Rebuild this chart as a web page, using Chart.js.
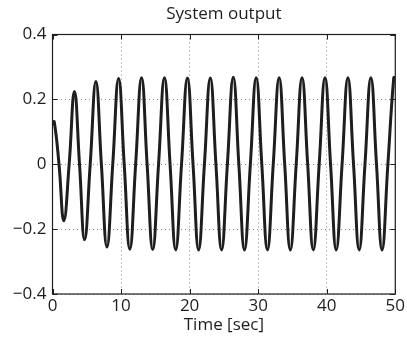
<!DOCTYPE html>
<html>
<head>
<meta charset="utf-8">
<script src="https://cdn.jsdelivr.net/npm/chart.js@4.4.1/dist/chart.umd.min.js"></script>
<style>
  html, body { margin: 0; padding: 0; background: #fff; }
  canvas { display: block; }
</style>
</head>
<body>
<canvas id="chart" width="407" height="339"></canvas>
<script>
// Values: peaks, troughs and zero crossings of the response
const timeSec = [
  0, 0.25, 0.95, 1.65, 2.43, 3.2, 3.94, 4.68, 5.5, 6.33, 7.13, 7.94, 8.79,
  9.64, 10.46, 11.28, 12.13, 12.99, 13.8, 14.62, 15.47, 16.33, 17.15, 17.97,
  18.82, 19.68, 20.5, 21.31, 22.16, 23.02, 23.84, 24.66, 25.51, 26.37, 27.18,
  28.0, 28.86, 29.71, 30.53, 31.35, 32.2, 33.06, 33.87, 34.69, 35.55, 36.4,
  37.22, 38.04, 38.9, 39.75, 40.56, 41.38, 42.24, 43.09, 43.91, 44.73, 45.58,
  46.44, 47.26, 48.07, 48.92, 49.78, 50
];
const output = [
  0.12, 0.131, 0, -0.174, 0, 0.224, 0, -0.233, 0, 0.255, 0, -0.255, 0,
  0.264, 0, -0.262, 0, 0.267, 0, -0.263, 0, 0.267, 0, -0.264,
  0, 0.266, 0, -0.264, 0, 0.266, 0, -0.264, 0, 0.268, 0,
  -0.264, 0, 0.267, 0, -0.264, 0, 0.267, 0, -0.264, 0, 0.267,
  0, -0.264, 0, 0.267, 0, -0.264, 0, 0.267, 0, -0.264, 0,
  0.267, 0, -0.264, 0, 0.267, 0.263
];
const xTicks = [0, 10, 20, 30, 40, 50];
const yTicks = [-0.4, -0.2, 0, 0.2, 0.4];

const FONT = "'Open Sans', 'Noto Sans', sans-serif";
const INK = "#1e1e1e";

// MATLAB-style closed box with inward tick marks
const boxPlugin = {
  id: "box",
  afterDatasetsDraw(chart) {
    const { ctx, chartArea: a, scales } = chart;
    ctx.save();
    ctx.strokeStyle = INK;
    ctx.lineWidth = 1;
    ctx.beginPath();
    xTicks.forEach((v) => {
      const px = Math.round(scales.x.getPixelForValue(v)) + 0.5;
      ctx.moveTo(px, a.bottom); ctx.lineTo(px, a.bottom - 5);
      ctx.moveTo(px, a.top); ctx.lineTo(px, a.top + 5);
    });
    yTicks.forEach((v) => {
      const py = Math.round(scales.y.getPixelForValue(v)) + 0.5;
      ctx.moveTo(a.left, py); ctx.lineTo(a.left + 5, py);
      ctx.moveTo(a.right, py); ctx.lineTo(a.right - 5, py);
    });
    ctx.stroke();
    ctx.lineWidth = 1.2;
    ctx.strokeRect(a.left, a.top, a.right - a.left, a.bottom - a.top);
    ctx.restore();
  },
};

new Chart(document.getElementById("chart"), {
  type: "line",
  data: {
    datasets: [
      {
        data: timeSec.map((t, i) => ({ x: t, y: output[i] })),
        borderColor: INK,
        borderWidth: 3,
        pointRadius: 0,
        tension: 0.45,
        fill: false,
      },
    ],
  },
  options: {
    responsive: false,
    devicePixelRatio: 1,
    animation: false,
    layout: { padding: { top: 0, right: 7, bottom: 0, left: 0 } },
    plugins: {
      legend: { display: false },
      tooltip: { enabled: false },
      title: {
        display: true,
        text: "System output",
        fullSize: false,
        color: INK,
        font: { family: FONT, size: 17, weight: "normal" },
        padding: { top: 4, bottom: 10.1 },
      },
    },
    scales: {
      x: {
        type: "linear",
        min: 0,
        max: 50,
        afterBuildTicks: (s) => { s.ticks = xTicks.map((v) => ({ value: v })); },
        afterFit: (s) => { s.height = 45; },
        ticks: {
          color: INK,
          padding: 2,
          maxRotation: 0,
          font: { family: FONT, size: 17 },
        },
        grid: { color: "#8a8a8a", lineWidth: 1, drawTicks: false },
        border: { display: false, dash: [1, 3] },
        title: {
          display: true,
          text: "Time [sec]",
          color: INK,
          font: { family: FONT, size: 17 },
          padding: { top: 0, bottom: 4 },
        },
      },
      y: {
        type: "linear",
        min: -0.4,
        max: 0.4,
        afterBuildTicks: (s) => { s.ticks = yTicks.map((v) => ({ value: v })); },
        afterFit: (s) => { s.width = 52.5; },
        ticks: {
          color: INK,
          padding: 6,
          font: { family: FONT, size: 17 },
          callback: (v) =>
            Math.abs(v) < 1e-9 ? "0" : (v < 0 ? "\u2212" : "") + Math.abs(v).toFixed(1),
        },
        grid: { color: "#8a8a8a", lineWidth: 1, drawTicks: false },
        border: { display: false, dash: [1, 3] },
      },
    },
  },
  plugins: [boxPlugin],
});
</script>
</body>
</html>
